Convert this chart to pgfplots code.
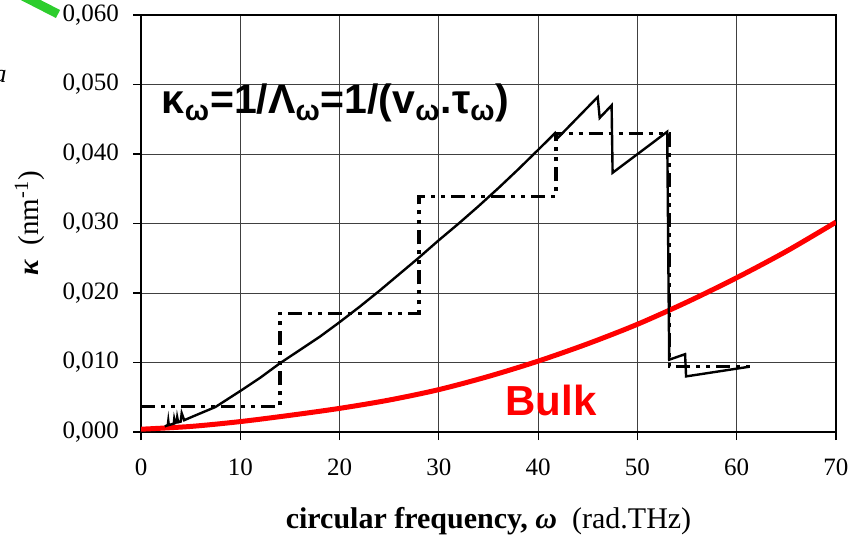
\documentclass[border=0pt]{standalone}
\usepackage{fontspec}
\setmainfont{Liberation Serif}
\newfontfamily\arialfont{Liberation Sans}
\usepackage{pgfplots}
\pgfplotsset{compat=1.18}
\definecolor{hlgreen}{RGB}{45,205,45}
\begin{document}
\begin{tikzpicture}
\begin{axis}[
    at={(0pt,0pt)}, anchor=south west,
    scale only axis, width=347.5pt, height=208.5pt,
    xmin=0, xmax=70, ymin=0, ymax=0.06,
    xtick={0,10,...,70},
    ytick={0,0.01,0.02,0.03,0.04,0.05,0.06},
    scaled y ticks=false,
    grid=major,
    major grid style={line width=0.5pt, black!75},
    axis line style={line width=1pt},
    tick align=outside, major tick length=4pt,
    tick style={black, line width=0.6pt},
    tick pos=left,
    ticklabel style={font=\fontsize{12.5}{14}\selectfont},
    /pgf/number format/assume math mode=true,
    yticklabel style={xshift=-3.5pt, /pgf/number format/.cd, fixed, fixed zerofill, precision=3, use comma},
    xticklabel style={yshift=-6pt},
    xlabel={\textbf{circular frequency, \textit{ω}}\ \ (rad.THz)},
    ylabel={\textbf{\textit{κ}}\ \ (nm\textsuperscript{-1})},
    xlabel style={font=\fontsize{15}{17}\selectfont, at={(axis description cs:0.5,-0.213)}, anchor=center},
    ylabel style={font=\fontsize{14.5}{17}\selectfont, at={(axis description cs:-0.16,0.5)}, anchor=center},
]
% bulk
\addplot[red, line width=2.5pt, smooth] coordinates {
(0,0.0004)(5,0.0008)(10,0.0015)(15,0.0024)(20,0.0034)(25,0.0046)(30,0.0061)
(35,0.0080)(40,0.0102)(45,0.0127)(50,0.0155)(55,0.0187)(60,0.0222)(65,0.0260)(70,0.0302)};
% step model
\addplot[black, line width=1.6pt, line cap=butt,
  dash pattern=on 7pt off 3pt on 2pt off 3pt on 2pt off 3pt] coordinates {
(0,0.0037)(14,0.0037)(14,0.0171)(28,0.0171)(28,0.0339)(41.8,0.0339)(41.8,0.0429)
(53.2,0.0429)(53.2,0.0094)(61.3,0.0094)};
% full dispersion
\addplot[black, line width=1.2pt] coordinates {
(2.4,0.0008)(2.7,0.0010)(2.75,0.0016)(2.8,0.0010)(3.3,0.0012)(3.35,0.0019)(3.45,0.0013)
(3.6,0.0014)(3.65,0.0021)(3.75,0.0014)(4.0,0.0015)(4.1,0.0027)(4.35,0.0017)
(5.5,0.0024)(7.5,0.0036)(10,0.0059)(12,0.0078)(14,0.0099)(16,0.0118)(18,0.0137)
(20,0.0158)(22,0.0180)(24,0.0203)(26,0.0227)(28,0.0251)(30,0.0276)(32,0.0300)
(34,0.0325)(36,0.0351)(38,0.0378)(40,0.0406)(41.7,0.0430)(41.9,0.0422)
(46.0,0.0482)(46.2,0.0452)(47.4,0.0470)(47.5,0.0373)(53.0,0.0432)(53.2,0.0104)
(54.8,0.0112)(54.9,0.0080)(61.3,0.0094)};
\node at (axis cs:19.6,0.0473) {\arialfont\bfseries\fontsize{20.5}{24}\selectfont κ\textsubscript{ω}=1/Λ\textsubscript{ω}=1/(v\textsubscript{ω}.τ\textsubscript{ω})};
\node[text=red] at (axis cs:41.3,0.0046) {\arialfont\bfseries\fontsize{21}{25}\selectfont Bulk};
\end{axis}
\draw[hlgreen, line width=4.5pt] (-63pt,220pt) -- (-41.5pt,209pt);
\node[anchor=base east, inner sep=0pt] at (-67pt,174.5pt) {\fontsize{13}{15}\selectfont\itshape a};
\pgfresetboundingbox
\path[use as bounding box] (-70.5pt,-52pt) rectangle (354pt,216pt);
\end{tikzpicture}
\end{document}
